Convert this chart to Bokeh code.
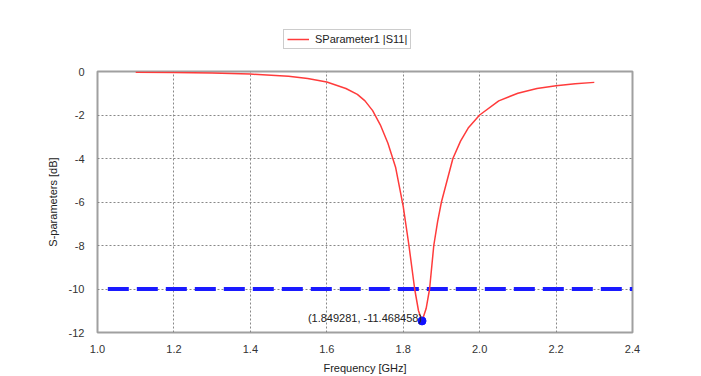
from bokeh.plotting import figure
from bokeh.layouts import column
from bokeh.models import FixedTicker, NumeralTickFormatter, Legend, LegendItem, Range1d, Label
from bokeh.embed import file_html
from bokeh.resources import INLINE

freq = [1.10, 1.20, 1.30, 1.40, 1.50, 1.55, 1.60, 1.65, 1.68, 1.70, 1.72, 1.74, 1.76, 1.78,
        1.80, 1.815, 1.83, 1.84, 1.849281, 1.86, 1.869, 1.88, 1.89, 1.90, 1.915, 1.93, 1.95,
        1.97, 2.00, 2.05, 2.10, 2.15, 2.20, 2.25, 2.30]
s11 = [-0.03, -0.05, -0.07, -0.12, -0.22, -0.32, -0.48, -0.78, -1.05, -1.35, -1.80, -2.45, -3.30, -4.40,
       -6.20, -8.0, -10.0, -11.0, -11.468458, -10.9, -10.0, -8.0, -6.9, -6.0, -5.0, -4.0, -3.2,
       -2.6, -2.0, -1.35, -1.0, -0.78, -0.65, -0.56, -0.50]
ref_x = [1.027, 2.4]
ref_y = [-10, -10]
min_f = 1.849281
min_db = -11.468458
x_ticks = [1.0, 1.2, 1.4, 1.6, 1.8, 2.0, 2.2, 2.4]
y_ticks = [0, -2, -4, -6, -8, -10, -12]
series_name = "SParameter1 |S11|"
curve_color = "#ff3b3b"

# legend strip above the plot (its frame is aligned with the main plot's frame)
leg = figure(width=701, height=66, output_backend="svg", toolbar_location=None,
             x_range=Range1d(0, 1), y_range=Range1d(0, 1), x_axis_type=None, y_axis_type=None,
             min_border=0)
leg.outline_line_color = None
leg.grid.visible = False
leg_line = leg.line(freq, s11, line_color=curve_color, line_width=1.5)
legend = Legend(items=[LegendItem(label=series_name, renderers=[leg_line])],
                location=(186, 17), orientation="vertical",
                border_line_color="#999999", border_line_width=1,
                label_text_font="Liberation Sans", label_text_font_size="11px",
                label_text_color="#222222", glyph_width=22, glyph_height=12,
                padding=3, margin=0, label_standoff=6, spacing=0, label_height=12)
leg.add_layout(legend, "center")

p = figure(width=701, height=310, output_backend="svg", toolbar_location=None,
           x_range=Range1d(1.0, 2.4), y_range=Range1d(-12, 0),
           min_border_left=97, min_border_right=69, min_border_top=5, min_border_bottom=44)
p.background_fill_color = "white"
p.border_fill_color = "white"
p.outline_line_color = "#a0a0a0"
p.outline_line_width = 2

for ax in (p.xaxis, p.yaxis):
    ax.axis_line_color = None
    ax.major_tick_line_color = None
    ax.minor_tick_line_color = None
    ax.major_label_text_font = "Liberation Sans"
    ax.major_label_text_font_size = "11px"
    ax.major_label_text_color = "#333333"
    ax.axis_label_text_font = "Liberation Sans"
    ax.axis_label_text_font_size = "11px"
    ax.axis_label_text_font_style = "normal"
    ax.axis_label_text_color = "#222222"

p.xaxis.ticker = FixedTicker(ticks=x_ticks)
p.yaxis.ticker = FixedTicker(ticks=y_ticks)
p.xaxis.formatter = NumeralTickFormatter(format="0.0")
p.yaxis.formatter = NumeralTickFormatter(format="0")
p.xaxis.major_label_standoff = 6
p.yaxis.major_label_standoff = 7
p.xaxis.axis_label = "Frequency [GHz]"
p.yaxis.axis_label = "S-parameters [dB]"
p.xaxis.axis_label_standoff = 6
p.yaxis.axis_label_standoff = 7

p.grid.grid_line_color = "#888888"
p.grid.grid_line_dash = "2 2"
p.grid.grid_line_width = 1

p.line(ref_x, ref_y, line_color="#1a1aff", line_width=4, line_dash="21 8")
p.line(freq, s11, line_color=curve_color, line_width=1.5)
p.scatter([min_f], [min_db], size=8, color="#1010ff")

lbl = Label(x=min_f, y=min_db, text="(1.849281, -11.468458)", x_offset=0, y_offset=3,
            text_align="right", text_baseline="middle", text_font="Liberation Sans",
            text_font_size="11px", text_color="#222222")
p.add_layout(lbl)

layout = column(leg, p, spacing=0)
open("out.html", "w").write(file_html(layout, INLINE))
